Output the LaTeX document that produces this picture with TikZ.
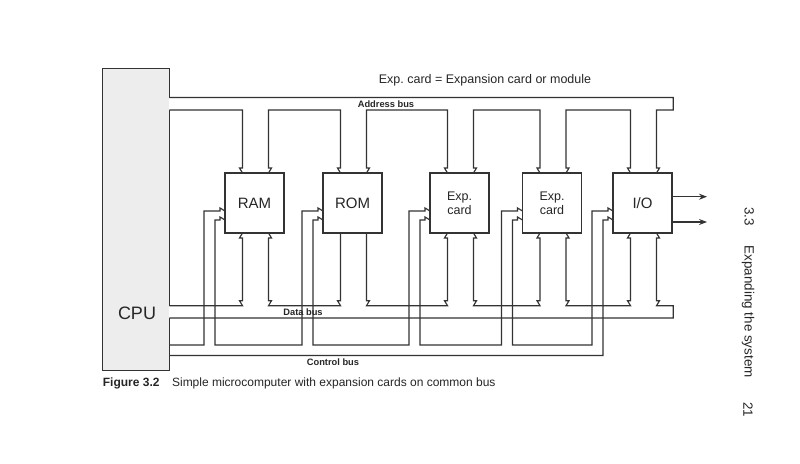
\documentclass[tikz,border=0pt]{standalone}
\usepackage{fontspec}
\setmainfont{Liberation Sans}
\usetikzlibrary{calc,arrows.meta}
\definecolor{ink}{HTML}{333333}
\definecolor{cpufill}{HTML}{EDEDED}
\begin{document}
\begin{tikzpicture}[x=1pt,y=-1pt,
  wire/.style={draw=ink,line width=1.15pt,line join=miter},
  devbox/.style={draw=ink,line width=1.15pt,minimum width=59pt,minimum height=60pt,inner sep=0pt,outer sep=0pt,font=\fontsize{15}{16}\selectfont,text=black!85,align=center},
  expbox/.style={devbox,font=\fontsize{12.5}{14}\selectfont},
  buslbl/.style={font=\bfseries\fontsize{9.3}{10}\selectfont,text=black!85,inner sep=0pt},
  plain/.style={text=black!85,inner sep=0pt},
  outarrow/.style={wire,-{Stealth[length=8pt,width=6pt]}}
]
\fill[white] (0,0) rectangle (800,463);
\useasboundingbox (0,0) rectangle (800,463);

% CPU
\node[fill=cpufill,minimum width=66.6pt,minimum height=302.4pt,inner sep=0pt,outer sep=0pt] (cpu) at (136,219.5) {};
\node[plain,font=\fontsize{18}{20}\selectfont] (cpul) at (137,313) {CPU};

% devices
\node[devbox] (ram) at (254.5,203) {RAM};
\node[devbox] (rom) at (352.5,203) {ROM};
\node[expbox] (expa) at (459.5,203) {Exp.\\card};
\node[expbox] (expb) at (552,203) {Exp.\\card};
\node[devbox] (io) at (642.5,203) {I/O};

\foreach \n in {ram,rom,expa,expb,io}{
  \coordinate (\n-ta) at ($(\n.north west)+(17.5,0)$);
  \coordinate (\n-tb) at ($(\n.north west)+(43.5,0)$);
  \coordinate (\n-ba) at ($(\n.south west)+(17.5,0)$);
  \coordinate (\n-bb) at ($(\n.south west)+(43.5,0)$);
  \coordinate (\n-c1) at ($(\n.north west)+(0,38)$);
  \coordinate (\n-c2) at ($(\n.north west)+(0,47)$);
  \coordinate (\n-k1) at ($(\n.north west)+(-21,38)$);
  \coordinate (\n-k2) at ($(\n.north west)+(-10,47)$);
}

% bus levels
\coordinate (abT) at (169.3,97.5);
\coordinate (abB) at (169.3,110);
\coordinate (dbT) at (169.3,305.7);
\coordinate (dbB) at (169.3,318);
\coordinate (cl) at (169.3,345);
\coordinate (cb) at (169.3,355.5);
\coordinate (busend) at (673.3,97.5);

% CPU outline (open where buses enter)
\draw[wire] (abT) -- (cpu.north east) -- (cpu.north west) -- (cpu.south west) -- (cpu.south east) -- (dbB);
\draw[wire] (dbT) -- (abB);

% Address bus
\draw[wire] (abT) -- (busend) -- (abB -| busend) -- (abB -| io-tb) -- ($(io-tb)+(0,-5)$) -- ($(io-tb)+(3,-5)$) -- (io-tb);
\foreach \a/\b in {io/expb,expb/expa,expa/rom,rom/ram}{
  \draw[wire] (\a-ta) -- ($(\a-ta)+(-3,-5)$) -- ($(\a-ta)+(0,-5)$) -- (abB -| \a-ta) -- (abB -| \b-tb) -- ($(\b-tb)+(0,-5)$) -- ($(\b-tb)+(3,-5)$) -- (\b-tb);
}
\draw[wire] (ram-ta) -- ($(ram-ta)+(-3,-5)$) -- ($(ram-ta)+(0,-5)$) -- (abB -| ram-ta) -- (abB);

% Data bus
\draw[wire] (dbT) -- (dbT -| ram-ba) -- ++(-3,-5) -- ++(3,0) -- ($(ram-ba)+(0,5)$) -- ++(-3,0) -- (ram-ba);
\draw[wire] (ram-bb) -- ++(3,5) -- ++(-3,0) -- ($(dbT -| ram-bb)+(0,-5)$) -- ++(3,0) -- (dbT -| ram-bb) -- (dbT -| rom-ba) -- ++(-3,-5) -- ++(3,0) -- (rom-ba);
\draw[wire] (rom-bb) -- ($(dbT -| rom-bb)+(0,-5)$) -- ++(3,0) -- (dbT -| rom-bb) -- (dbT -| expa-ba) -- ++(-3,-5) -- ++(3,0) -- ($(expa-ba)+(0,5)$) -- ++(-3,0) -- (expa-ba);
\draw[wire] (expa-bb) -- ++(3,5) -- ++(-3,0) -- ($(dbT -| expa-bb)+(0,-5)$) -- ++(3,0) -- (dbT -| expa-bb) -- (dbT -| expb-ba) -- ++(-3,-5) -- ++(3,0) -- ($(expb-ba)+(0,5)$) -- ++(-3,0) -- (expb-ba);
\draw[wire] (expb-bb) -- ++(3,5) -- ++(-3,0) -- ($(dbT -| expb-bb)+(0,-5)$) -- ++(3,0) -- (dbT -| expb-bb) -- (dbT -| io-ba) -- ++(-3,-5) -- ++(3,0) -- ($(io-ba)+(0,5)$) -- ++(-3,0) -- (io-ba);
\draw[wire] (io-bb) -- ++(3,5) -- ++(-3,0) -- ($(dbT -| io-bb)+(0,-5)$) -- ++(3,0) -- (dbT -| io-bb) -- (dbT -| busend) -- (dbB -| busend) -- (dbB);

% Control chain
\draw[wire] (cl) -- (cl -| ram-k1) -- (ram-k1) -- ($(ram-c1)+(-5,0)$) -- ++(0,-3) -- (ram-c1);
\foreach \a/\b in {ram/rom,rom/expa,expa/expb,expb/io}{
  \draw[wire] (\a-c2) -- ++(-5,-3) -- ++(0,3) -- (\a-k2) -- (cl -| \a-k2) -- (cl -| \b-k1) -- (\b-k1) -- ($(\b-c1)+(-5,0)$) -- ++(0,-3) -- (\b-c1);
}
\draw[wire] (io-c2) -- ++(-5,-3) -- ++(0,3) -- (io-k2) -- (cb -| io-k2) -- (cb);

% I/O outputs
\coordinate (io-o1) at ($(io.north east)+(0,23.7)$);
\coordinate (io-o2) at ($(io.north east)+(0,49)$);
\coordinate (out1) at (707,196.7);
\coordinate (out2) at (707,222);
\draw[outarrow] (io-o1) -- (out1);
\draw[outarrow] (io-o2) -- (out2);

% labels
\node[plain,font=\fontsize{12.5}{14}\selectfont] (legend) at (485,80) {Exp.\ card = Expansion card or module};
\node[buslbl] (abl) at (386,104) {Address bus};
\node[buslbl] (dbl) at (303,311.9) {Data bus};
\node[buslbl] (cbl) at (333,362) {Control bus};

\node[plain,anchor=west,font=\fontsize{12}{14}\selectfont] (cap) at (102.7,383) {\textbf{Figure 3.2}\hspace{12.5pt}Simple microcomputer with expansion cards on common bus};
\node[plain,anchor=west,rotate=-90,font=\fontsize{13.4}{15}\selectfont] (sec) at (748,207) {3.3\hspace{20pt}Expanding the system};
\node[plain,anchor=west,rotate=-90,font=\fontsize{13.4}{15}\selectfont] (pg) at (748,402) {21};
\end{tikzpicture}
\end{document}
